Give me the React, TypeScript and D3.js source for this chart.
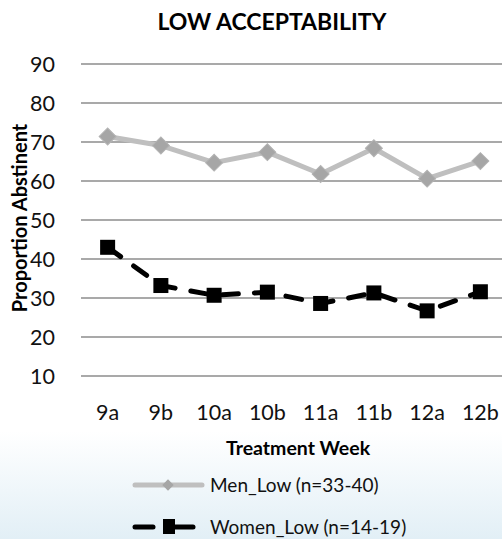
import React, { useEffect, useRef } from "react";
import * as d3 from "d3";

const weeks = ["9a", "9b", "10a", "10b", "11a", "11b", "12a", "12b"];
const menLow = [71.4, 69.1, 64.7, 67.4, 61.8, 68.4, 60.6, 65.1];
const womenLow = [43.0, 33.2, 30.7, 31.5, 28.6, 31.3, 26.7, 31.6];
const yTicks = [10, 20, 30, 40, 50, 60, 70, 80, 90];
const seriesNames = ["Men_Low (n=33-40)", "Women_Low (n=14-19)"];

const W = 502;
const H = 539;
const FONT = "Lato, 'Open Sans', sans-serif";

export default function App() {
  const ref = useRef<SVGSVGElement>(null);

  useEffect(() => {
    const svg = d3.select(ref.current);
    svg.selectAll("*").remove();

    // background fade at the bottom
    const defs = svg.append("defs");
    const grad = defs
      .append("linearGradient")
      .attr("id", "bg")
      .attr("x1", 0)
      .attr("y1", 0)
      .attr("x2", 0)
      .attr("y2", 1);
    grad.append("stop").attr("offset", "0%").attr("stop-color", "#ffffff");
    grad.append("stop").attr("offset", "80%").attr("stop-color", "#ffffff");
    grad.append("stop").attr("offset", "100%").attr("stop-color", "#e2eff6");
    svg.append("rect").attr("width", W).attr("height", H).attr("fill", "url(#bg)");

    const x = d3.scaleBand().domain(weeks).range([81, 507]);
    const y = d3.scaleLinear().domain([10, 90]).range([376, 64]);
    const cx = (d: string) => (x(d) as number) + x.bandwidth() / 2;

    // gridlines
    svg
      .append("g")
      .selectAll("line")
      .data(yTicks)
      .join("line")
      .attr("x1", 81)
      .attr("x2", W)
      .attr("y1", (d) => y(d))
      .attr("y2", (d) => y(d))
      .attr("stroke", "#8c8c8c")
      .attr("stroke-width", 1.5);

    // y tick labels
    svg
      .append("g")
      .selectAll("text")
      .data(yTicks)
      .join("text")
      .attr("x", 55)
      .attr("y", (d) => y(d))
      .attr("dy", "0.36em")
      .attr("text-anchor", "end")
      .attr("font-family", FONT)
      .attr("font-size", 21.5)
      .attr("fill", "#111")
      .text((d) => d);

    // x tick labels
    svg
      .append("g")
      .selectAll("text")
      .data(weeks)
      .join("text")
      .attr("x", (d) => cx(d))
      .attr("y", 420)
      .attr("text-anchor", "middle")
      .attr("font-family", FONT)
      .attr("font-size", 21.5)
      .attr("fill", "#111")
      .text((d) => d);

    // titles
    svg
      .append("text")
      .attr("x", 272)
      .attr("y", 30)
      .attr("text-anchor", "middle")
      .attr("font-family", FONT)
      .attr("font-weight", "bold")
      .attr("font-size", 23)
      .text("LOW ACCEPTABILITY");

    svg
      .append("text")
      .attr("x", 298)
      .attr("y", 455)
      .attr("text-anchor", "middle")
      .attr("font-family", FONT)
      .attr("font-weight", "bold")
      .attr("font-size", 19.5)
      .text("Treatment Week");

    svg
      .append("text")
      .attr("transform", "translate(27,218) rotate(-90)")
      .attr("text-anchor", "middle")
      .attr("font-family", FONT)
      .attr("font-weight", "bold")
      .attr("font-size", 20)
      .text("Proportion Abstinent");

    const line = d3
      .line<number>()
      .x((_, i) => cx(weeks[i]))
      .y((d) => y(d));

    // men series
    svg
      .append("path")
      .datum(menLow)
      .attr("d", line)
      .attr("fill", "none")
      .attr("stroke", "#bfbfbf")
      .attr("stroke-width", 5)
      .attr("stroke-linejoin", "round");
    svg
      .append("g")
      .selectAll("rect")
      .data(menLow)
      .join("rect")
      .attr("x", -6)
      .attr("y", -6)
      .attr("width", 12)
      .attr("height", 12)
      .attr("transform", (d, i) => `translate(${cx(weeks[i])},${y(d)}) rotate(45)`)
      .attr("fill", "#a6a6a6")
      .attr("stroke", "#b3b3b3")
      .attr("stroke-width", 1);

    // women series
    svg
      .append("path")
      .datum(womenLow)
      .attr("d", line)
      .attr("fill", "none")
      .attr("stroke", "#000")
      .attr("stroke-width", 5)
      .attr("stroke-linecap", "round")
      .attr("stroke-dasharray", "16 16");
    svg
      .append("g")
      .selectAll("rect")
      .data(womenLow)
      .join("rect")
      .attr("x", (d, i) => cx(weeks[i]) - 7.5)
      .attr("y", (d) => y(d) - 7.5)
      .attr("width", 15)
      .attr("height", 15)
      .attr("fill", "#000");

    // legend
    const lg = svg.append("g");
    lg.append("line")
      .attr("x1", 135)
      .attr("x2", 202)
      .attr("y1", 485)
      .attr("y2", 485)
      .attr("stroke", "#bfbfbf")
      .attr("stroke-width", 5)
      .attr("stroke-linecap", "round");
    lg.append("rect")
      .attr("x", -4)
      .attr("y", -4)
      .attr("width", 8)
      .attr("height", 8)
      .attr("transform", "translate(168,485) rotate(45)")
      .attr("fill", "#a6a6a6");
    lg.append("line")
      .attr("x1", 135)
      .attr("x2", 153)
      .attr("y1", 527)
      .attr("y2", 527)
      .attr("stroke", "#000")
      .attr("stroke-width", 5)
      .attr("stroke-linecap", "round");
    lg.append("line")
      .attr("x1", 172)
      .attr("x2", 193)
      .attr("y1", 527)
      .attr("y2", 527)
      .attr("stroke", "#000")
      .attr("stroke-width", 5)
      .attr("stroke-linecap", "round");
    lg.append("rect")
      .attr("x", 163)
      .attr("y", 519)
      .attr("width", 12)
      .attr("height", 15)
      .attr("fill", "#000");
    lg.selectAll("text.leg")
      .data(seriesNames)
      .join("text")
      .attr("class", "leg")
      .attr("x", 210)
      .attr("y", (d, i) => 485 + i * 42)
      .attr("dy", "0.36em")
      .attr("font-family", FONT)
      .attr("font-size", 19)
      .attr("fill", "#111")
      .text((d) => d);
  }, []);

  return (
    <svg
      ref={ref}
      width={W}
      height={H}
      style={{ position: "absolute", left: 0, top: 0, display: "block" }}
    />
  );
}
